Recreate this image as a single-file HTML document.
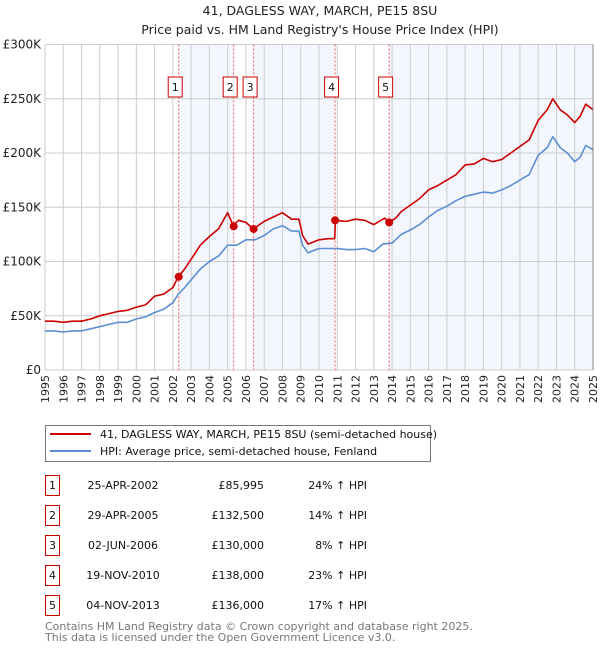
<!DOCTYPE html>
<html><head><meta charset="utf-8"><style>
body{margin:0;background:#fff;font-family:"DejaVu Sans","Liberation Sans",sans-serif;}
svg text{font-family:"DejaVu Sans","Liberation Sans",sans-serif;}
</style></head><body>
<svg id="chart" width="600" height="650" xmlns="http://www.w3.org/2000/svg">
<text x="320" y="15" font-size="12.5" text-anchor="middle" fill="#222">41, DAGLESS WAY, MARCH, PE15 8SU</text>
<text x="320" y="34" font-size="12.5" text-anchor="middle" fill="#222">Price paid vs. HM Land Registry's House Price Index (HPI)</text>
<g id="plot"></g>
<g>
<rect x="45.5" y="425.5" width="385" height="36" fill="#fff" stroke="#777"/>
<line x1="50" y1="434" x2="91" y2="434" stroke="#cc0000" stroke-width="2"/>
<text x="100" y="438" font-size="11" fill="#111">41, DAGLESS WAY, MARCH, PE15 8SU (semi-detached house)</text>
<line x1="50" y1="451" x2="91" y2="451" stroke="#5b8fd1" stroke-width="2"/>
<text x="100" y="455" font-size="11" fill="#111">HPI: Average price, semi-detached house, Fenland</text>
</g>
<g id="table"></g>
<text x="45" y="630" font-size="11" fill="#777">Contains HM Land Registry data © Crown copyright and database right 2025.</text>
<text x="45" y="641" font-size="11" fill="#777">This data is licensed under the Open Government Licence v3.0.</text>
</svg>
<script>
const hpiYears=[1995,1995.5,1996,1996.5,1997,1997.5,1998,1998.5,1999,1999.5,2000,2000.5,2001,2001.5,2002,2002.3,2002.6,2003,2003.5,2004,2004.5,2005,2005.5,2006,2006.5,2007,2007.5,2008,2008.5,2008.9,2009.1,2009.4,2010,2010.5,2011,2011.5,2012,2012.5,2013,2013.5,2014,2014.5,2015,2015.5,2016,2016.5,2017,2017.5,2018,2018.5,2019,2019.5,2020,2020.5,2021,2021.5,2022,2022.5,2022.8,2023.2,2023.6,2024,2024.3,2024.6,2025];
const hpiValues=[36,36,35,36,36,38,40,42,44,44,47,49,53,56,62,70,75,83,93,100,105,115,115,120,120,124,130,133,128,128,115,108,112,112,112,111,111,112,109,116,117,125,129,134,141,147,151,156,160,162,164,163,166,170,175,180,198,205,215,205,200,192,196,207,203];
const redYears=[1995,1995.5,1996,1996.5,1997,1997.5,1998,1998.5,1999,1999.5,2000,2000.5,2001,2001.5,2002,2002.3,2002.6,2003,2003.5,2004,2004.5,2005,2005.3,2005.6,2006,2006.4,2007,2007.5,2008,2008.5,2008.9,2009.1,2009.4,2010,2010.5,2010.86,2010.9,2011.5,2012,2012.5,2013,2013.6,2013.85,2014.2,2014.5,2015,2015.5,2016,2016.5,2017,2017.5,2018,2018.5,2019,2019.5,2020,2020.5,2021,2021.5,2022,2022.5,2022.8,2023.2,2023.6,2024,2024.3,2024.6,2025];
const redValues=[45,45,44,45,45,47,50,52,54,55,58,60,68,70,76,86,92,102,115,123,130,145,133,138,136,130,137,141,145,139,139,124,116,120,121,121,138,137,139,138,134,140,136,140,146,152,158,166,170,175,180,189,190,195,192,194,200,206,212,230,240,250,240,235,228,234,245,240];
const saleYears=[2002.32,2005.33,2006.42,2010.88,2013.84];
const saleValues=[85.995,132.5,130,138,136];
const saleDates=["25-APR-2002","29-APR-2005","02-JUN-2006","19-NOV-2010","04-NOV-2013"];
const salePrices=["£85,995","£132,500","£130,000","£138,000","£136,000"];
const salePcts=["24% ↑ HPI","14% ↑ HPI","8% ↑ HPI","23% ↑ HPI","17% ↑ HPI"];
const yTicks=[0,50,100,150,200,250,300];
const yTickLabels=["£0","£50K","£100K","£150K","£200K","£250K","£300K"];
const xTicks=[1995,1996,1997,1998,1999,2000,2001,2002,2003,2004,2005,2006,2007,2008,2009,2010,2011,2012,2013,2014,2015,2016,2017,2018,2019,2020,2021,2022,2023,2024,2025];

const L=45,R=593,T=44.5,B=370,X0=1995,X1=2025,YMAX=300;
const xs=v=>L+(v-X0)/(X1-X0)*(R-L);
const ys=v=>B-v/YMAX*(B-T);
const NS="http://www.w3.org/2000/svg";
function mk(tag,attrs,parent){const e=document.createElementNS(NS,tag);for(const k in attrs)e.setAttribute(k,attrs[k]);parent.appendChild(e);return e;}
const plot=document.getElementById('plot');
const bandStarts=[saleYears[0],saleYears[2],saleYears[4]];
const bandEnds=[saleYears[1],saleYears[3],X1];
for(let i=0;i<bandStarts.length;i++){
 const r=mk('rect',{x:xs(bandStarts[i]),y:T,width:xs(bandEnds[i])-xs(bandStarts[i]),height:B-T,fill:'#f3f6fd'},plot);
 
 
}
xTicks.forEach(t=>{const l=mk('line',{x1:xs(t),x2:xs(t),y1:T,y2:B,stroke:'#cccccc','stroke-width':1},plot);
 
 
 const tx=mk('text',{x:0,y:0,'font-size':11,fill:'#222','text-anchor':'end',transform:`translate(${xs(t)+4},${B+5}) rotate(-90)`},plot);tx.textContent=t;
 
 
});
yTicks.forEach((t,i)=>{const l=mk('line',{x1:L,x2:R,y1:ys(t),y2:ys(t),stroke:'#cccccc','stroke-width':1},plot);
 
 
 const tx=mk('text',{x:L-4,y:ys(t)+4,'font-size':12,fill:'#222','text-anchor':'end'},plot);tx.textContent=yTickLabels[i];
 
 
});
saleYears.forEach((s,i)=>{const l=mk('line',{x1:xs(s),x2:xs(s),y1:T,y2:B,stroke:'#ee5555','stroke-width':1,'stroke-dasharray':'2,2'},plot);
 
 
 const cx=xs(s)-3.5;
 const b=mk('rect',{x:cx-7,y:77,width:14,height:20,fill:'#fff',stroke:'#cc0000'},plot);
 
 
 const t=mk('text',{x:cx,y:91,'font-size':11,'text-anchor':'middle',fill:'#111'},plot);t.textContent=i+1;
 
 
});
function path(xa,va,color,name){const d=xa.map((x,i)=>(i?'L':'M')+xs(x).toFixed(1)+','+ys(va[i]).toFixed(1)).join('');
 const p=mk('path',{d:d,fill:'none',stroke:color,'stroke-width':1.6,'stroke-linejoin':'round'},plot);
 
 }
path(hpiYears,hpiValues,'#5b8fd1','hpi-line');
path(redYears,redValues,'#cc0000','price-paid-line');
saleYears.forEach((s,i)=>{const c=mk('circle',{cx:xs(s),cy:ys(saleValues[i]),r:4,fill:'#cc0000'},plot);
 
 });
mk('line',{x1:R,x2:R,y1:T,y2:B,stroke:'#888'},plot);
const tb=document.getElementById('table');
saleDates.forEach((d,i)=>{const y=475+i*30;
 const b=mk('rect',{x:45.5,y:y+0.5,width:14,height:20,fill:'#fff',stroke:'#cc0000'},tb);
 
 
 const n=mk('text',{x:52.5,y:y+14,'font-size':11,'text-anchor':'middle',fill:'#111'},tb);n.textContent=i+1;
 
 
 const t1=mk('text',{x:123,y:y+14,'font-size':11,'text-anchor':'middle',fill:'#111'},tb);t1.textContent=d;
 
 
 const t2=mk('text',{x:264,y:y+14,'font-size':11,'text-anchor':'end',fill:'#111'},tb);t2.textContent=salePrices[i];
 
 
 const t3=mk('text',{x:367,y:y+14,'font-size':11,'text-anchor':'end',fill:'#111'},tb);t3.textContent=salePcts[i];
 
 
});
</script>
</body></html>
